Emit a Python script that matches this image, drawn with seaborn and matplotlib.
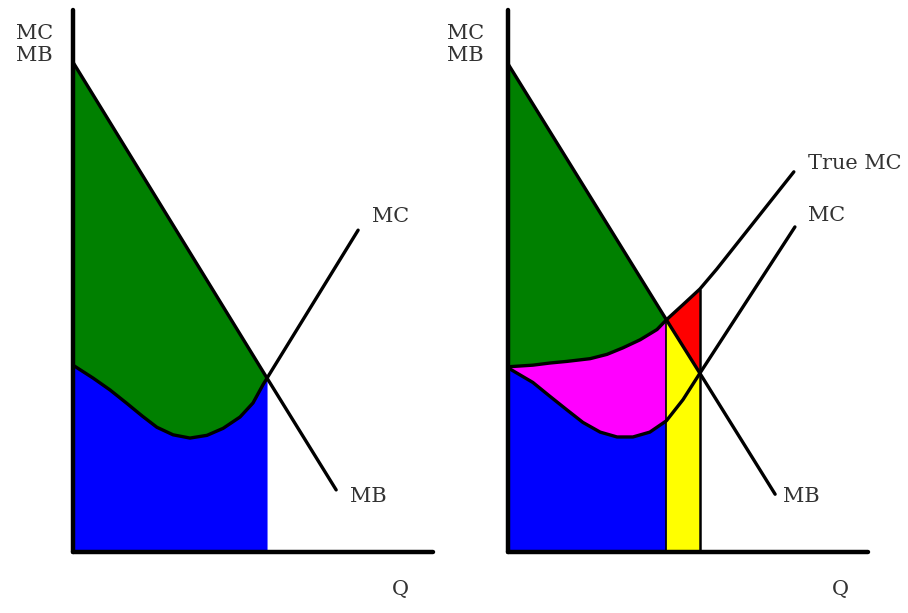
import numpy as np
import seaborn as sns
import matplotlib.pyplot as plt

# left panel: MC curve and MB line (Q, price)
lq_mc = [0, 0.56, 1.03, 1.5, 1.92, 2.33, 2.78, 3.25, 3.72, 4.17, 4.64, 5.0, 5.28, 5.39, 7.92]
lmc = [3.46, 3.22, 3.00, 2.75, 2.52, 2.31, 2.17, 2.11, 2.16, 2.29, 2.50, 2.76, 3.10, 3.22, 5.96]
lq_mb = [0, 5.39, 7.31]
lmb = [9.07, 3.22, 1.15]

# right panel: MC, true MC and MB
rq_mc = [0, 0.69, 1.17, 1.64, 2.08, 2.56, 3.03, 3.47, 3.94, 4.40, 4.86, 5.33, 7.97]
rmc = [3.41, 3.14, 2.88, 2.63, 2.40, 2.22, 2.13, 2.13, 2.22, 2.43, 2.82, 3.31, 6.02]
rq_true = [0, 0.69, 1.17, 1.64, 2.28, 2.75, 3.19, 3.67, 4.14, 4.40, 4.86, 5.33, 5.8, 7.94]
rtrue = [3.43, 3.46, 3.50, 3.53, 3.58, 3.66, 3.78, 3.93, 4.12, 4.30, 4.58, 4.87, 5.24, 7.04]
rq_mb = [0, 4.40, 5.33, 7.42]
rmb = [9.04, 4.30, 3.31, 1.07]

sns.set_style("white")
plt.rcParams['font.family'] = ['DejaVu Serif']

fig = plt.figure(figsize=(9.08, 6.13), dpi=100)
W, H = 908, 613
axl = fig.add_axes([73 / W, (613 - 552) / H, 360 / W, 542 / H])
axr = fig.add_axes([508 / W, (613 - 552) / H, 360 / W, 542 / H])

GREEN, BLUE, MAG, YEL, RED = "#008000", "#0000ff", "#ff00ff", "#ffff00", "#ff0000"
txt = dict(fontsize=15, color="#333333", clip_on=False)
line = dict(color="black", lw=2.4, estimator=None, solid_joinstyle="round")

# ---- left ----
k = lq_mc.index(5.39)
axl.fill_between(lq_mc[:k + 1], 0, lmc[:k + 1], color=BLUE, lw=0)
axl.fill(lq_mb[:2] + lq_mc[:k + 1][::-1], lmb[:2] + lmc[:k + 1][::-1], color=GREEN, lw=0)
sns.lineplot(x=lq_mb, y=lmb, ax=axl, **line)
sns.lineplot(x=lq_mc, y=lmc, ax=axl, **line)

# ---- right ----
i = rq_mc.index(4.40)
j = rq_true.index(4.40)
t = rq_true.index(5.33)
axr.fill_between(rq_mc[:i + 1], 0, rmc[:i + 1], color=BLUE, lw=0)
axr.fill(rq_true[:j + 1] + rq_mc[:i + 1][::-1], rtrue[:j + 1] + rmc[:i + 1][::-1], color=MAG, lw=0)
axr.fill(rq_mb[:2] + rq_true[:j + 1][::-1], rmb[:2] + rtrue[:j + 1][::-1], color=GREEN, lw=0)
axr.fill([rq_mb[1], rq_mb[1], rq_mb[2], rq_mb[2]], [0, rmb[1], rmb[2], 0], color=YEL, lw=0)
axr.fill(rq_true[j:t + 1] + [rq_mb[2]], rtrue[j:t + 1] + [rmb[2]], color=RED, lw=0)
axr.vlines(rq_mb[1], 0, rmb[1], color="black", lw=1.2)
axr.vlines(rq_mb[2], 0, rtrue[t], color="black", lw=1.8)
sns.lineplot(x=rq_mb, y=rmb, ax=axr, **line)
sns.lineplot(x=rq_mc, y=rmc, ax=axr, **line)
sns.lineplot(x=rq_true, y=rtrue, ax=axr, **line)

for ax in (axl, axr):
    ax.set_xlim(0, 10)
    ax.set_ylim(0, 542 / 54)
    ax.set_xticks([])
    ax.set_yticks([])
    ax.set_xlabel("")
    ax.set_ylabel("")
    ax.patch.set_alpha(0)
    for s in ("top", "right"):
        ax.spines[s].set_visible(False)
    for s in ("left", "bottom"):
        ax.spines[s].set_linewidth(3.2)
        ax.spines[s].set_color("black")
        ax.spines[s].set_capstyle("round")
        ax.spines[s].set_zorder(5)

axl.text(-1.08, 9.4, "MC\nMB", ha="center", va="center", linespacing=1.2, **txt)
axl.text(8.3, 6.22, "MC", ha="left", va="center", **txt)
axl.text(7.7, 1.02, "MB", ha="left", va="center", **txt)
axl.text(9.1, -0.7, "Q", ha="center", va="center", **txt)

axr.text(-1.19, 9.4, "MC\nMB", ha="center", va="center", linespacing=1.2, **txt)
axr.text(8.33, 7.2, "True MC", ha="left", va="center", **txt)
axr.text(8.33, 6.24, "MC", ha="left", va="center", **txt)
axr.text(7.64, 1.02, "MB", ha="left", va="center", **txt)
axr.text(9.22, -0.7, "Q", ha="center", va="center", **txt)

plt.savefig("out.png", dpi=100)
